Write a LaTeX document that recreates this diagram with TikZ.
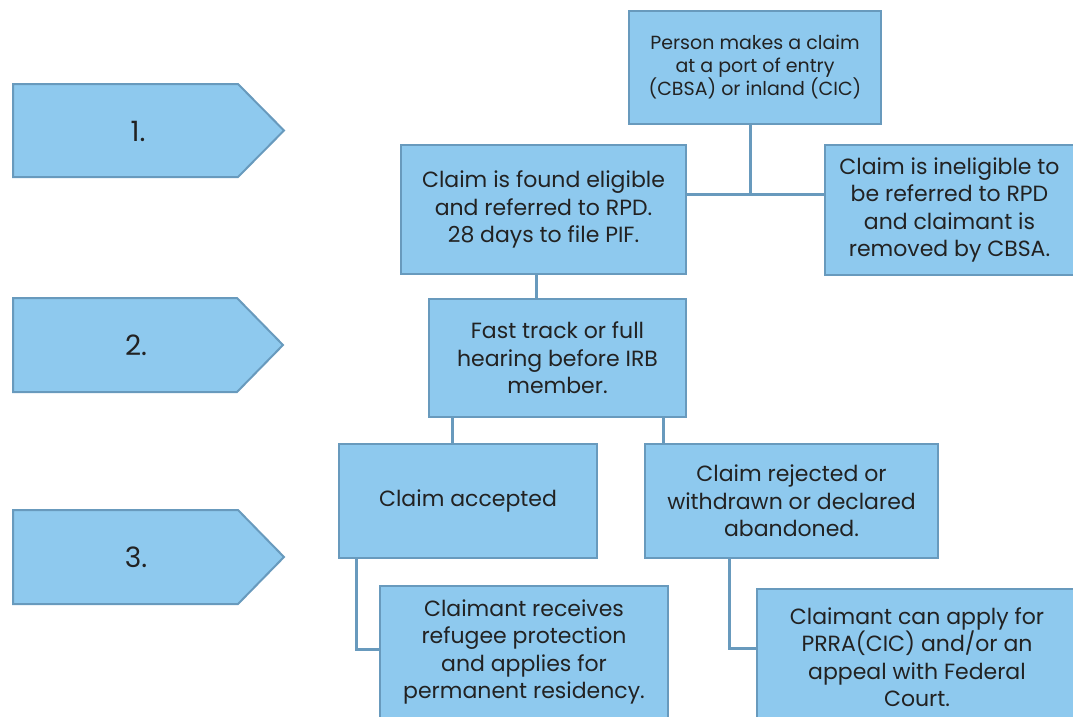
\documentclass[tikz,border=0pt]{standalone}
\usepackage{fontspec}
\setmainfont{Poppins}
\definecolor{boxfill}{RGB}{142,201,238}
\definecolor{boxline}{RGB}{104,154,189}
\definecolor{txt}{RGB}{34,34,34}
\tikzset{
  px/.style={x=1pt,y=-1pt},
  card/.style={draw=boxline,fill=boxfill,line width=2pt,anchor=north west,
    inner sep=0pt,align=center,text=txt,font=\fontsize{22}{27.5}\selectfont},
  smallcard/.style={card,font=\fontsize{19}{23}\selectfont},
  chev/.style={draw=boxline,fill=boxfill,line width=2pt,line join=miter},
  num/.style={text=txt,font=\fontsize{28}{30}\selectfont,inner sep=0pt},
  link/.style={draw=boxline,line width=3pt}
}
\begin{document}
\begin{tikzpicture}[px]
\useasboundingbox (0,0) rectangle (1073,717);
\clip (0,0) rectangle (1073,717);
% chevrons
\draw[chev] (13,84) -- (238,84) -- (284,130.5) -- (238,177) -- (13,177) -- cycle;
\node[num] (s1) at (138,131) {1.};
\draw[chev] (13,298) -- (237,298) -- (283,345) -- (237,392) -- (13,392) -- cycle;
\node[num] (s2) at (136,345) {2.};
\draw[chev] (13,510) -- (238,510) -- (284,557) -- (238,604) -- (13,604) -- cycle;
\node[num] (s3) at (136,557) {3.};
% boxes
\node[smallcard,minimum width=252pt,minimum height=113pt] (top) at (628,10)
  {Person makes a claim\\at a port of entry\\(CBSA) or inland (CIC)};
\node[card,minimum width=285pt,minimum height=129pt] (elig) at (400,144)
  {Claim is found eligible\\and referred to RPD.\\28 days to file PIF.};
\node[card,minimum width=249pt,minimum height=130pt] (inel) at (824,144)
  {Claim is ineligible to\\be referred to RPD\\and claimant is\\removed by CBSA.};
\node[card,minimum width=257pt,minimum height=118pt] (fast) at (428,298)
  {Fast track or full\\hearing before IRB\\member.};
\node[card,minimum width=258pt,minimum height=114pt] (acc) at (338,443)
  {Claim accepted};
\node[card,minimum width=293pt,minimum height=114pt] (rej) at (644,443)
  {Claim rejected or\\withdrawn or declared\\abandoned.};
\node[card,minimum width=288pt,minimum height=132pt] (recv) at (379,585)
  {Claimant receives\\refugee protection\\and applies for\\permanent residency.};
\node[card,minimum width=320pt,minimum height=136pt] (appl) at (756,588)
  {Claimant can apply for\\PRRA(CIC) and/or an\\appeal with Federal\\Court.};
% connectors
\coordinate (j1) at (750,194);
\draw[link] (top.south -| j1) -- (j1);
\draw[link] (elig.east |- j1) -- (inel.west |- j1);
\draw[link] (elig.south -| 536,0) -- (fast.north -| 536,0);
\draw[link] (fast.south -| 452,0) -- (acc.north -| 452,0);
\draw[link] (fast.south -| 663,0) -- (rej.north -| 663,0);
\coordinate (j2) at (356,649);
\draw[link] (acc.south -| j2) -- (j2) -- (recv.west |- j2);
\coordinate (j3) at (729,648);
\draw[link] (rej.south -| j3) -- (j3) -- (appl.west |- j3);
\end{tikzpicture}
\end{document}
